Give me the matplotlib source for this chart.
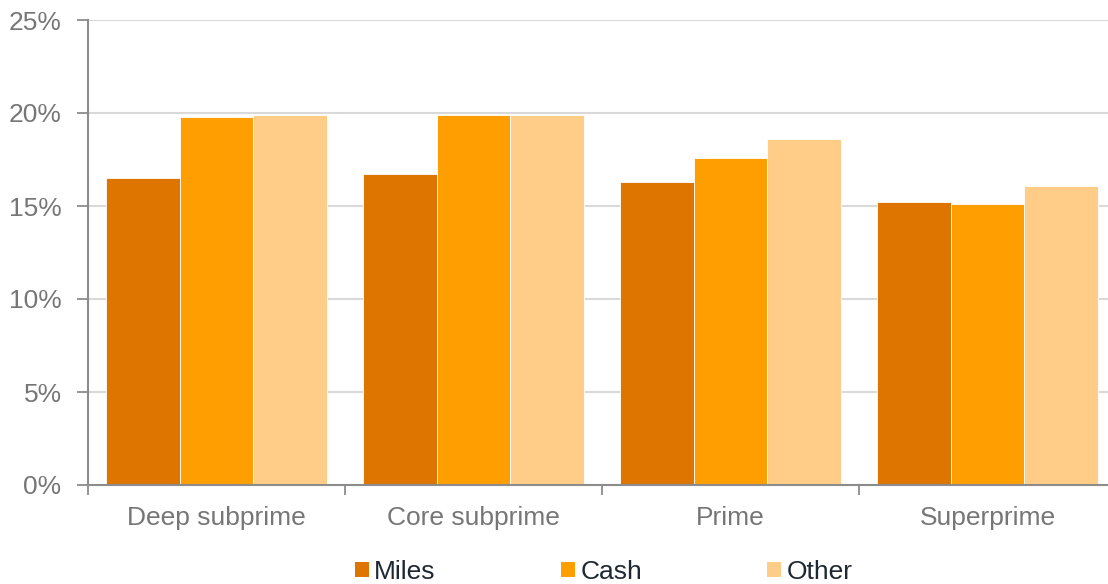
import matplotlib
matplotlib.use("Agg")
import matplotlib.pyplot as plt
import numpy as np

categories = ["Deep subprime", "Core subprime", "Prime", "Superprime"]
series_names = ["Miles", "Cash", "Other"]
miles = [16.5, 16.7, 16.3, 15.2]
cash = [19.8, 19.9, 17.6, 15.1]
other = [19.9, 19.9, 18.6, 16.1]
y_ticks = [0, 5, 10, 15, 20, 25]
y_tick_labels = ["0%", "5%", "10%", "15%", "20%", "25%"]

colors = ["#DD7500", "#FF9E00", "#FFCD88"]

plt.rcParams['font.family'] = ['Liberation Sans', 'DejaVu Sans']

W, H = 1108, 584
fig = plt.figure(figsize=(W / 100, H / 100), dpi=100)
ax_left, ax_right = 88, 1108
ax_top, ax_bottom = 20, 485
ax = fig.add_axes([ax_left / W, (H - ax_bottom) / H, (ax_right - ax_left) / W, (ax_bottom - ax_top) / H])

cat_px = 257.0
x = np.arange(len(categories))
bw = 0.286
for i, (vals, name, c) in enumerate(zip([miles, cash, other], series_names, colors)):
    ax.bar(x + (i - 1) * bw, vals, width=bw, color=c, edgecolor="white", linewidth=0.6,
           label=name, zorder=3)

ax.set_xlim(-0.5, -0.5 + (ax_right - ax_left) / cat_px)
ax.set_ylim(0, 25)

ax.set_yticks(y_ticks)
ax.set_yticklabels(y_tick_labels)
ax.yaxis.grid(True, color="#D9D9D9", linewidth=1.5, zorder=0)
ax.set_axisbelow(True)

ax.set_xticks([-0.5, 0.5, 1.5, 2.5])
ax.set_xticklabels([])
ax.set_xticks(x, minor=True)
ax.set_xticklabels(categories, minor=True)

ax.tick_params(axis="x", which="major", length=7, width=1.3, color="#8C8C8C", direction="out")
ax.tick_params(axis="x", which="minor", length=0, pad=15, labelsize=19, labelcolor="#767676")
ax.tick_params(axis="y", which="major", length=8, width=1.3, color="#8C8C8C", pad=11,
               labelsize=19, labelcolor="#767676")

for s in ["top", "right"]:
    ax.spines[s].set_visible(False)
for s in ["left", "bottom"]:
    ax.spines[s].set_color("#8C8C8C")
    ax.spines[s].set_linewidth(1.5)
ax.spines["bottom"].set_zorder(4)

leg = fig.legend(loc="center", bbox_to_anchor=(0.545, 1 - 572 / H), ncol=3, frameon=False,
                 fontsize=19, handlelength=0.53, handleheight=0.53, handletextpad=0.2,
                 columnspacing=4.75, borderaxespad=0, borderpad=0)
for t in leg.get_texts():
    t.set_color("#1E2833")
for h in leg.legend_handles:
    h.set_edgecolor("none")

fig.savefig("out.png", dpi=100)
